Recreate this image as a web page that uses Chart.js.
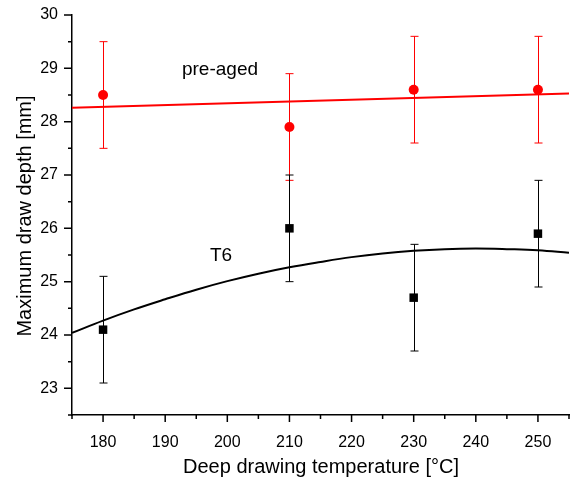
<!DOCTYPE html>
<html>
<head>
<meta charset="utf-8">
<script src="https://cdn.jsdelivr.net/npm/chart.js@4.4.0/dist/chart.umd.min.js"></script>
<style>
  html, body { margin: 0; padding: 0; background: #fff; }
  #wrap { width: 576px; height: 480px; }
</style>
</head>
<body>
<div id="wrap"><canvas id="chart"></canvas></div>
<script>
// measured points (temperature in °C, depth in mm)
const temps = [180, 210, 230, 250];
const preAged = [28.5, 27.9, 28.6, 28.6];
const preAgedErr = [1.0, 1.0, 1.0, 1.0];
const t6 = [24.1, 26.0, 24.7, 25.9];
const t6Err = [1.0, 1.0, 1.0, 1.0];

// fit lines
const preFitX = [175, 255];
const preFitY = [28.26, 28.53];
const t6FitX = [175, 180, 185, 190, 195, 200, 205, 210, 215, 220, 225, 230, 235, 240, 245, 250, 255];
const t6FitY = [24.04, 24.27, 24.48, 24.67, 24.85, 25.01, 25.15, 25.27, 25.37, 25.46, 25.53, 25.58, 25.61, 25.62, 25.61, 25.59, 25.54];

const FONT = 'Arial, "Liberation Sans", sans-serif';

function pts(xs, ys) {
  return xs.map((x, i) => ({ x: x, y: ys[i] }));
}

// error bars, minor/major tick marks, labels and axis titles
const extras = {
  id: 'extras',
  afterDatasetsDraw(chart) {
    const ctx = chart.ctx;
    const xs = chart.scales.x, ys = chart.scales.y;
    const bars = [
      { vals: preAged, err: preAgedErr, color: '#ff0000' },
      { vals: t6, err: t6Err, color: '#000000' }
    ];
    ctx.save();
    bars.forEach(b => {
      ctx.strokeStyle = b.color;
      ctx.lineWidth = 1;
      temps.forEach((t, i) => {
        const px = Math.round(xs.getPixelForValue(t)) + 0.5;
        const top = ys.getPixelForValue(b.vals[i] + b.err[i]);
        const bot = ys.getPixelForValue(b.vals[i] - b.err[i]);
        ctx.beginPath();
        ctx.moveTo(px, top); ctx.lineTo(px, bot);
        ctx.moveTo(px - 4, top); ctx.lineTo(px + 4, top);
        ctx.moveTo(px - 4, bot); ctx.lineTo(px + 4, bot);
        ctx.stroke();
      });
    });
    ctx.restore();
  },
  afterDraw(chart) {
    const ctx = chart.ctx;
    const xs = chart.scales.x, ys = chart.scales.y;
    const area = chart.chartArea;
    ctx.save();
    ctx.strokeStyle = '#000';
    ctx.lineWidth = 1.5;
    ctx.beginPath();
    xs.ticks.forEach(t => {
      const px = xs.getPixelForValue(t.value);
      const len = t.value % 10 === 0 ? 7 : 4;
      ctx.moveTo(px, area.bottom); ctx.lineTo(px, area.bottom + len);
    });
    ys.ticks.forEach(t => {
      const py = ys.getPixelForValue(t.value);
      const len = Number.isInteger(t.value) ? 8 : 4;
      ctx.moveTo(area.left, py); ctx.lineTo(area.left - len, py);
    });
    ctx.stroke();

    ctx.fillStyle = '#000';
    ctx.textAlign = 'center';
    ctx.textBaseline = 'middle';
    ctx.font = '19px ' + FONT;
    ctx.fillText('pre-aged', 220, 70);
    ctx.fillText('T6', 221, 256);

    ctx.font = '20px ' + FONT;
    ctx.fillText('Deep drawing temperature [°C]', 321, 467);
    ctx.translate(25, 216);
    ctx.rotate(-Math.PI / 2);
    ctx.fillText('Maximum draw depth [mm]', 0, 0);
    ctx.restore();
  }
};

new Chart(document.getElementById('chart'), {
  type: 'scatter',
  data: {
    datasets: [
      {
        label: 'pre-aged fit',
        data: pts(preFitX, preFitY),
        showLine: true,
        borderColor: '#ff0000',
        borderWidth: 2,
        pointRadius: 0,
        order: 3
      },
      {
        label: 'T6 fit',
        data: pts(t6FitX, t6FitY),
        showLine: true,
        borderColor: '#000000',
        borderWidth: 2,
        pointRadius: 0,
        tension: 0.4,
        order: 3
      },
      {
        label: 'pre-aged',
        data: pts(temps, preAged),
        pointStyle: 'circle',
        pointRadius: 5,
        backgroundColor: '#ff0000',
        borderColor: '#ff0000',
        borderWidth: 0,
        order: 1
      },
      {
        label: 'T6',
        data: pts(temps, t6),
        pointStyle: 'rect',
        pointRadius: 6,
        backgroundColor: '#000000',
        borderColor: '#000000',
        borderWidth: 0,
        order: 1
      }
    ]
  },
  options: {
    responsive: true,
    maintainAspectRatio: false,
    animation: false,
    layout: { autoPadding: false, padding: { top: 15, right: 7, left: 0, bottom: 0 } },
    plugins: {
      legend: { display: false },
      tooltip: { enabled: false }
    },
    scales: {
      x: {
        type: 'linear',
        min: 175,
        max: 255,
        // tick marks are drawn by the plugin; the library ones only space the labels
        grid: { display: true, drawOnChartArea: false, drawTicks: true, tickLength: 18, tickColor: 'rgba(0,0,0,0)' },
        border: { display: true, color: '#000', width: 1.5 },
        ticks: {
          stepSize: 5,
          autoSkip: false,
          maxRotation: 0,
          padding: 0,
          color: '#000',
          font: { family: FONT, size: 16 },
          callback: v => (v % 10 === 0 ? v : '')
        },
        afterFit(scale) { scale.height = 65; }
      },
      y: {
        type: 'linear',
        min: 22.5,
        max: 30,
        grid: { display: true, drawOnChartArea: false, drawTicks: true, tickLength: 14, tickColor: 'rgba(0,0,0,0)' },
        border: { display: true, color: '#000', width: 1.5 },
        ticks: {
          stepSize: 0.5,
          autoSkip: false,
          padding: 0,
          color: '#000',
          font: { family: FONT, size: 16 },
          callback: v => (Number.isInteger(v) && v >= 23 ? v : '')
        },
        afterFit(scale) { scale.width = 72; }
      }
    }
  },
  plugins: [extras]
});
</script>
</body>
</html>
